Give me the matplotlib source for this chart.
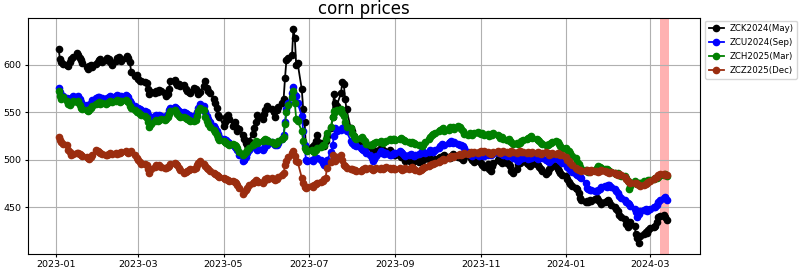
##############################################################################
# Corn futures prices - four contracts
##############################################################################

import pandas as pd
import matplotlib.pyplot as plt


##############################################################################
# Data (daily settle, business days from 2023-01-03)
##############################################################################

start_date = "2023-01-03"

zck2024 = [
    617, 606, 603, 601, 600, 599, 603, 606, 608, 612, 610, 607, 605, 602, 598, 596, 599, 600, 598, 601, 603,
    605, 606, 603, 605, 607, 606, 603, 600, 604, 607, 608, 606, 604, 607, 609, 607, 603, 592, 588, 589,
    585, 583, 583, 582, 581, 575, 569, 571, 570, 572, 571, 573, 572, 570, 567, 569, 575, 583, 584, 581, 579, 580, 578,
    579, 575, 572, 571, 570, 576, 574, 572, 569, 571, 578, 583, 576, 572, 570, 564, 560, 555, 547, 545,
    536, 540, 545, 547, 543, 536, 540, 535, 530, 532, 526, 522, 518, 515, 520, 527, 533, 540, 547, 545, 543, 548, 552,
    557, 555, 553, 550, 545, 552, 556, 560, 564, 586, 605, 607, 610, 638, 628, 600, 602, 574, 553, 540, 512, 510,
    513, 510, 515, 520, 526, 518, 515, 514, 520, 525, 533, 545, 569, 560, 557, 570, 582, 580, 564, 553, 533,
    530, 525, 522, 520, 515, 517, 514, 512, 514, 516, 512, 510, 508, 509, 511, 508, 510, 509, 507, 510, 508, 506, 505,
    505, 506, 503, 504, 502, 499, 500, 498, 497, 499, 500, 498, 499, 501, 500, 502, 503, 500, 498, 500, 501,
    502, 503, 501, 504, 505, 503, 502, 504, 506, 505, 503, 504, 502, 500, 503, 505, 504, 502, 500, 498, 501, 499,
    497, 494, 492, 495, 490, 488, 493, 497, 500, 502, 499, 497, 499, 497, 495, 493, 488, 486, 490, 495, 497, 499,
    499, 497, 495, 493, 497, 495, 496, 494, 492, 490, 488, 485, 487, 490, 492, 495, 493, 490, 488, 486, 484,
    483, 480, 477, 474, 472, 470, 469, 465, 460, 458, 456, 457, 456, 458, 457, 459, 460, 458, 455, 453, 455, 457, 458,
    456, 452, 450, 448, 446, 442, 440, 438, 432, 429, 431, 434, 430, 422, 418, 412, 420, 422, 424, 423, 426,
    428, 429, 430, 434, 440, 441, 442, 440, 437,
]

zcu2024 = [
    576, 571, 568, 567, 565, 564, 563, 565, 567, 566, 567, 564, 561, 559, 558, 557, 558, 560, 563, 565, 566,
    566, 564, 565, 564, 565, 566, 567, 566, 567, 568, 567, 566, 567, 568, 567, 566, 562, 560, 557, 555,
    555, 553, 552, 551, 550, 547, 543, 545, 546, 547, 546, 547, 546, 545, 546, 548, 552, 555, 556, 555, 553, 551, 550,
    550, 549, 548, 547, 546, 546, 547, 550, 555, 559, 557, 550, 546, 543, 540, 536, 533, 530, 527, 524,
    522, 520, 521, 519, 518, 515, 513, 512, 510, 505, 499, 500, 503, 507, 510, 513, 515, 512, 510, 511, 510, 512, 515,
    516, 518, 519, 517, 516, 515, 518, 522, 526, 540, 553, 560, 570, 577, 568, 567, 560, 546, 530, 515, 500, 499,
    500, 499, 501, 502, 502, 500, 497, 494, 496, 500, 508, 515, 525, 533, 530, 531, 533, 535, 532, 530, 520,
    518, 516, 515, 514, 512, 511, 510, 509, 507, 505, 502, 499, 501, 504, 507, 509, 508, 506, 507, 505, 505, 506, 507,
    507, 509, 508, 507, 505, 504, 505, 506, 505, 504, 505, 506, 507, 509, 508, 507, 508, 510, 509, 508, 510,
    512, 514, 517, 516, 515, 518, 519, 520, 518, 519, 517, 515, 516, 514, 512, 508, 506, 505, 504, 506, 505, 504,
    505, 506, 504, 505, 506, 505, 506, 507, 508, 507, 507, 506, 505, 504, 505, 506, 504, 502, 500, 499, 501, 502,
    502, 503, 501, 502, 502, 503, 502, 501, 502, 503, 502, 500, 499, 498, 500, 501, 502, 501, 500, 499, 497,
    495, 492, 491, 489, 487, 485, 484, 483, 482, 481, 476, 470, 469, 468, 468, 467, 467, 468, 469, 471, 472, 471, 473,
    473, 471, 469, 467, 465, 462, 460, 458, 456, 454, 453, 451, 448, 445, 440, 443, 446, 447, 448, 446, 447,
    448, 450, 450, 452, 455, 458, 460, 461, 458,
]

zch2025 = [
    572, 567, 564, 566, 562, 559, 558, 560, 562, 561, 562, 558, 555, 553, 552, 551, 552, 554, 557, 559, 560,
    561, 559, 560, 559, 560, 561, 562, 561, 562, 563, 562, 561, 562, 563, 562, 561, 557, 555, 552, 550,
    550, 548, 547, 546, 544, 540, 535, 538, 541, 542, 541, 542, 543, 542, 543, 545, 548, 551, 552, 550, 548, 546, 545,
    545, 544, 543, 542, 541, 541, 542, 546, 551, 555, 552, 545, 541, 538, 535, 531, 529, 526, 523, 521,
    520, 519, 518, 517, 516, 517, 516, 514, 512, 508, 505, 506, 508, 510, 512, 515, 517, 520, 518, 519, 520, 521, 522,
    521, 520, 519, 518, 517, 518, 520, 522, 524, 538, 550, 558, 566, 572, 560, 543, 541, 530, 520, 512, 510, 509,
    510, 509, 508, 510, 512, 513, 515, 516, 522, 528, 535, 545, 551, 550, 552, 553, 549, 546, 540, 535, 533,
    528, 525, 523, 522, 523, 524, 522, 520, 517, 515, 516, 517, 518, 519, 519, 520, 518, 519, 520, 522, 521, 522, 522,
    521, 522, 523, 522, 521, 520, 519, 518, 519, 518, 517, 516, 515, 514, 516, 519, 522, 524, 526, 527, 528,
    530, 531, 532, 533, 530, 531, 534, 533, 535, 532, 536, 534, 532, 530, 527, 526, 528, 527, 526, 528, 529, 528,
    527, 528, 526, 527, 525, 527, 526, 528, 526, 525, 523, 524, 522, 521, 522, 520, 519, 517, 518, 517, 518, 520,
    521, 522, 523, 524, 525, 523, 522, 521, 520, 518, 517, 516, 515, 517, 518, 519, 520, 519, 517, 514, 512,
    512, 510, 509, 507, 504, 502, 498, 495, 492, 490, 489, 488, 487, 488, 488, 489, 491, 493, 492, 491, 490, 490, 489,
    488, 487, 486, 485, 486, 484, 483, 483, 481, 478, 469, 472, 478, 476, 474, 475, 476, 478, 477, 478, 479,
    479, 480, 481, 481, 482, 484, 484, 485, 483,
]

zcz2025 = [
    524, 521, 519, 517, 515, 510, 508, 505, 506, 507, 507, 506, 505, 504, 503, 502, 501, 503, 505, 510, 509,
    508, 507, 506, 505, 505, 506, 507, 506, 507, 506, 507, 507, 508, 509, 508, 507, 508, 509, 505, 502,
    500, 498, 496, 495, 494, 490, 486, 490, 492, 494, 493, 494, 492, 491, 491, 492, 493, 495, 497, 496, 494, 491, 489,
    486, 487, 488, 489, 490, 490, 491, 494, 497, 499, 496, 493, 491, 490, 488, 486, 485, 484, 483, 482,
    481, 480, 480, 479, 478, 478, 477, 475, 473, 470, 464, 466, 468, 470, 473, 475, 477, 479, 478, 477, 476, 478, 480,
    481, 480, 481, 480, 479, 480, 482, 484, 486, 494, 499, 503, 507, 509, 504, 499, 498, 481, 476, 471, 470, 471,
    472, 471, 473, 474, 475, 477, 478, 480, 481, 491, 498, 505, 502, 499, 503, 505, 500, 494, 493, 491, 490,
    490, 489, 489, 488, 488, 489, 490, 491, 490, 491, 490, 489, 490, 491, 490, 491, 490, 491, 492, 491, 490, 491, 490,
    490, 491, 490, 489, 490, 491, 490, 491, 492, 490, 489, 488, 489, 490, 491, 492, 493, 494, 495, 496, 497,
    498, 499, 500, 501, 500, 502, 503, 504, 503, 504, 505, 506, 505, 506, 507, 506, 507, 508, 507, 508, 507, 508,
    509, 508, 509, 508, 507, 506, 507, 508, 509, 508, 507, 508, 509, 508, 507, 508, 509, 508, 507, 508, 509, 508,
    508, 507, 508, 507, 507, 508, 507, 508, 507, 506, 507, 508, 507, 505, 506, 507, 506, 507, 506, 505, 505,
    503, 500, 499, 497, 494, 491, 490, 489, 489, 488, 488, 489, 488, 487, 489, 488, 488, 487, 488, 489, 488, 487, 487,
    486, 487, 486, 485, 484, 485, 484, 482, 480, 478, 477, 476, 476, 475, 474, 473, 472, 473, 474, 475, 477,
    478, 480, 481, 482, 484, 485, 485, 484, 484,
]

series_labels = ["ZCK2024(May)", "ZCU2024(Sep)", "ZCH2025(Mar)", "ZCZ2025(Dec)"]
series_colors = ["black", "blue", "green", "#9b2d0f"]

highlight_start = "2024-03-08"
highlight_end = "2024-03-15"


##############################################################################
# Plot
##############################################################################

fig = plt.figure(figsize=(8, 2.72), dpi=100)
ax = fig.add_axes([0.035, 0.066, 0.84, 0.868])

for values, label, color in zip([zck2024, zcu2024, zch2025, zcz2025], series_labels, series_colors):
    dates = pd.bdate_range(start_date, periods=len(values))
    ax.plot(dates, values, marker="o", markersize=4.5, linewidth=1.3, color=color, label=label)

ax.axvspan(pd.Timestamp(highlight_start), pd.Timestamp(highlight_end), color="red", alpha=0.3, linewidth=0)

ax.set_title("corn prices", fontsize=12, pad=3)
ax.set_yticks([450, 500, 550, 600])
ax.tick_params(labelsize=6.8, length=2.5, pad=2)
ax.grid(True)
ax.legend(loc="upper left", bbox_to_anchor=(1.004, 1.0), fontsize=6.2,
          handlelength=1.8, handletextpad=0.6, borderpad=0.4,
          borderaxespad=0.3, labelspacing=0.6)

fig.savefig("out.png")
